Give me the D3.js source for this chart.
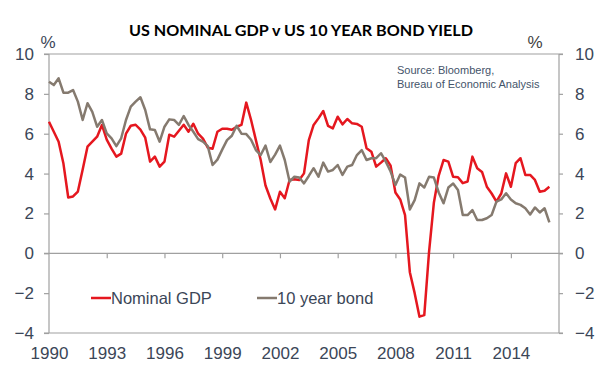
<!DOCTYPE html>
<html>
<head>
<meta charset="utf-8">
<script src="https://cdn.jsdelivr.net/npm/d3@7"></script>
<style>
  body { margin: 0; background: #fff; }
  svg { display: block; }
  text { font-family: "Liberation Sans", Arial, sans-serif; }
  .tick-label { font-size: 17px; fill: #3b4657; }
</style>
</head>
<body>
<svg id="chart" width="601" height="376"></svg>
<script>
// quarterly data, 1990Q1 .. 2016Q1 (y/y %)
const gdp = [
  6.6, 6.1, 5.6, 4.5, 2.8, 2.85, 3.1, 4.2, 5.35, 5.6, 5.85, 6.44,
  5.7, 5.25, 4.85, 5.0, 6.0, 6.4, 6.45, 6.2, 5.8, 4.6, 4.85, 4.35,
  4.6, 5.95, 5.85, 6.15, 6.45, 6.1, 6.5, 6.0, 5.75, 5.3, 5.25, 6.1,
  6.25, 6.25, 6.2, 6.35, 6.44, 7.56, 6.69, 5.68, 4.68, 3.4, 2.75, 2.2,
  3.09, 2.76, 3.68, 3.71, 3.68, 4.01, 5.68, 6.44, 6.77, 7.14, 6.39, 6.27,
  6.85, 6.47, 6.74, 6.52, 6.49, 6.35, 5.27, 5.1, 4.35, 4.55, 4.77, 4.4,
  3.05, 2.7, 1.92, -0.95, -2.0, -3.18, -3.1, 0.1, 2.55, 3.9, 4.68, 4.6,
  3.84, 3.82, 3.52, 3.6, 4.85, 4.27, 4.08, 3.34, 3.0, 2.59, 3.0, 4.01,
  3.34, 4.52, 4.77, 3.93, 3.93, 3.68, 3.09, 3.14, 3.34
];
const bond = [
  8.61, 8.44, 8.78, 8.06, 8.06, 8.19, 7.61, 6.69, 7.53, 7.1, 6.35, 6.69,
  6.02, 5.77, 5.38, 5.77, 6.69, 7.36, 7.61, 7.83, 7.19, 6.22, 6.19, 5.6,
  6.35, 6.72, 6.69, 6.44, 6.89, 6.44, 6.1, 5.73, 5.6, 5.38, 4.43, 4.7,
  5.2, 5.68, 5.9, 6.4, 6.0, 5.98, 5.7, 5.18, 4.93, 5.4, 4.58, 4.95,
  5.4, 4.68, 3.6, 3.84, 3.8, 3.51, 3.88, 4.27, 3.84, 4.55, 4.1, 4.18,
  4.43, 3.93, 4.35, 4.43, 4.93, 5.18, 4.68, 4.77, 4.77, 5.02, 4.6, 4.1,
  3.43, 3.95, 3.8, 2.2, 2.67, 3.51, 3.3, 3.84, 3.8, 3.05, 2.51, 3.3,
  3.5, 3.18, 1.92, 1.92, 2.17, 1.67, 1.67, 1.76, 1.92, 2.59, 2.7, 3.01,
  2.7, 2.51, 2.43, 2.26, 1.95, 2.3, 2.05, 2.26, 1.55
];
const yearLabels = ["1990", "1993", "1996", "1999", "2002", "2005", "2008", "2011", "2014"];
const yTicks = [-4, -2, 0, 2, 4, 6, 8, 10];
const seriesNames = ["Nominal GDP", "10 year bond"];

const svg = d3.select("#chart");
const plot = { left: 49, right: 559, top: 54, bottom: 333 };
const red = "#e5171f", taupe = "#857a6f", axisCol = "#a0a0a0";

const x = d3.scaleLinear().domain([0, 106]).range([plot.left, plot.right]);
const y = d3.scaleLinear().domain([-4, 10]).range([plot.bottom, plot.top]);

// title
svg.append("text")
  .attr("x", 301).attr("y", 36)
  .attr("text-anchor", "middle")
  .attr("textLength", 344).attr("lengthAdjust", "spacingAndGlyphs")
  .style("font-family", "Lato, 'Open Sans', sans-serif")
  .style("font-weight", 700).style("font-size", "15.5px")
  .text("US NOMINAL GDP v US 10 YEAR BOND YIELD");

// frame lines: top, bottom and zero
[10, -4, 0].forEach(v => {
  svg.append("line")
    .attr("x1", plot.left - 5).attr("x2", plot.right + 4)
    .attr("y1", y(v)).attr("y2", y(v))
    .attr("stroke", axisCol).attr("stroke-width", 1.2);
});

// left axis
svg.append("g")
  .attr("transform", `translate(${plot.left},0)`)
  .call(d3.axisLeft(y).tickValues(yTicks).tickSize(5).tickPadding(10).tickFormat(d3.format("d")))
  .call(g => g.select(".domain").attr("d", `M0,${plot.top}V${plot.bottom}`).attr("stroke", axisCol).attr("stroke-width", 1.2))
  .call(g => g.selectAll(".tick line").attr("stroke", axisCol).attr("stroke-width", 1.2))
  .call(g => g.selectAll(".tick text").attr("class", "tick-label").attr("fill", null))
  .attr("font-family", null).attr("font-size", null);

// right axis
svg.append("g")
  .attr("transform", `translate(${plot.right},0)`)
  .call(d3.axisRight(y).tickValues(yTicks).tickSize(4).tickPadding(12).tickFormat(d3.format("d")))
  .call(g => g.select(".domain").attr("d", `M0,${plot.top}V${plot.bottom}`).attr("stroke", axisCol).attr("stroke-width", 1.2))
  .call(g => g.selectAll(".tick line").attr("stroke", axisCol).attr("stroke-width", 1.2))
  .call(g => g.selectAll(".tick text").attr("class", "tick-label").attr("fill", "#3f3f3f"))
  .attr("font-family", null).attr("font-size", null);

// x ticks hang from the zero line
const xTickVals = yearLabels.map((d, i) => i * 12);
svg.append("g")
  .attr("transform", `translate(0,${y(0)})`)
  .call(d3.axisBottom(x).tickValues(xTickVals.slice(1)).tickSize(5).tickFormat(""))
  .call(g => g.select(".domain").remove())
  .call(g => g.selectAll(".tick line").attr("stroke", axisCol).attr("stroke-width", 1.2));

// year labels under the frame
svg.append("g")
  .attr("transform", `translate(0,${plot.bottom})`)
  .call(d3.axisBottom(x).tickValues(xTickVals).tickSize(0).tickPadding(14)
    .tickFormat((d, i) => yearLabels[i]))
  .call(g => g.select(".domain").remove())
  .call(g => g.selectAll(".tick text").attr("class", "tick-label").attr("fill", null))
  .attr("font-family", null).attr("font-size", null);

// % unit labels
svg.append("text").attr("x", 48).attr("y", 48).attr("text-anchor", "middle")
  .style("font-size", "17px").attr("fill", "#3b4657").text("%");
svg.append("text").attr("x", 535).attr("y", 48).attr("text-anchor", "middle")
  .style("font-size", "17px").attr("fill", "#3f3f3f").text("%");

// source note
const src = svg.append("text").attr("x", 397).style("font-size", "11px").attr("fill", "#44546a");
src.append("tspan").attr("x", 397).attr("y", 74).text("Source: Bloomberg,");
src.append("tspan").attr("x", 397).attr("y", 88).text("Bureau of Economic Analysis");

// series lines
const line = d3.line().x((d, i) => x(i)).y(d => y(d));
[[gdp, red], [bond, taupe]].forEach(([vals, col]) => {
  svg.append("path")
    .datum(vals)
    .attr("d", line)
    .attr("fill", "none")
    .attr("stroke", col)
    .attr("stroke-width", 2.5)
    .attr("stroke-linejoin", "round");
});

// legend
const legend = svg.append("g").attr("transform", "translate(0,298)");
[[91, red], [257, taupe]].forEach(([lx, col], i) => {
  legend.append("line")
    .attr("x1", lx).attr("x2", lx + 20).attr("y1", 0).attr("y2", 0)
    .attr("stroke", col).attr("stroke-width", 2.5);
  legend.append("text")
    .attr("x", lx + 20).attr("y", 6)
    .style("font-size", "16.5px").attr("fill", "#3b4657")
    .text(seriesNames[i]);
});
</script>
</body>
</html>
